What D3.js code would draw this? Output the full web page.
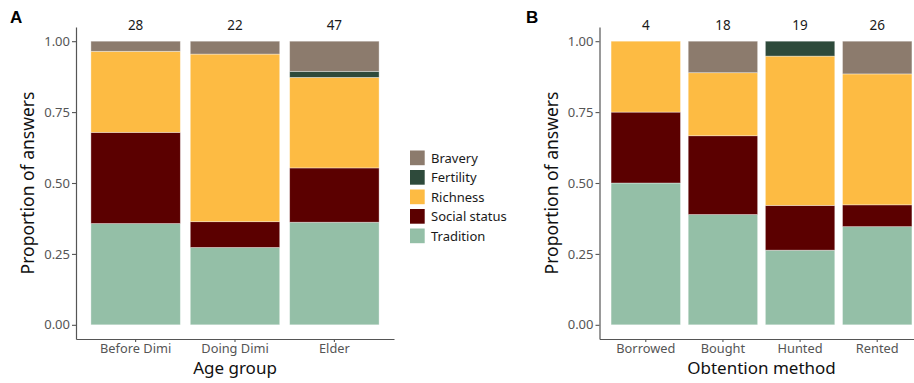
<!DOCTYPE html>
<html>
<head>
<meta charset="utf-8">
<script src="https://cdn.jsdelivr.net/npm/d3@7"></script>
<style>
  html, body { margin: 0; padding: 0; background: #fff; }
  svg { display: block; font-family: "Noto Sans", "Open Sans", sans-serif; }
</style>
</head>
<body>
<svg id="chart" width="914" height="383"></svg>
<script>
// Reasons, stacked from the bottom up
const reasons = ["Tradition", "Social status", "Richness", "Fertility", "Bravery"];
const legendOrder = ["Bravery", "Fertility", "Richness", "Social status", "Tradition"];
const reasonColors = ["#94bfa7", "#5b0000", "#fdbb43", "#2e4a3b", "#8c7b6d"];

// Panel A: answer counts by age group
const ageGroups = ["Before Dimi", "Doing Dimi", "Elder"];
const ageTradition = [10, 6, 17];
const ageSocial = [9, 2, 9];
const ageRichness = [8, 13, 15];
const ageFertility = [0, 0, 1];
const ageBravery = [1, 1, 5];

// Panel B: answer counts by obtention method
const methods = ["Borrowed", "Bought", "Hunted", "Rented"];
const methodTradition = [2, 7, 5, 9];
const methodSocial = [1, 5, 3, 2];
const methodRichness = [1, 4, 10, 12];
const methodFertility = [0, 0, 1, 0];
const methodBravery = [0, 2, 0, 3];

const yTicks = [0, 0.25, 0.5, 0.75, 1];

const svg = d3.select("#chart");
const color = d3.scaleOrdinal().domain(reasons).range(reasonColors);

function buildRows(cats, series) {
  return cats.map((c, i) => {
    const row = { cat: c };
    reasons.forEach((r, k) => { row[r] = series[k][i]; });
    row.total = d3.sum(series, s => s[i]);
    return row;
  });
}

function drawPanel(opts) {
  const { cats, series, x0, x1, letter, letterX, xTitle } = opts;
  const rows = buildRows(cats, series);
  const props = rows.map(r => {
    const p = { cat: r.cat };
    reasons.forEach(k => { p[k] = r[k] / r.total; });
    return p;
  });

  const y = d3.scaleLinear().domain([-0.05, 1.05]).range([339, 27]);
  const x = d3.scaleBand().domain(cats).range([x0, x1])
    .paddingInner(0.1).paddingOuter(0.15);

  const g = svg.append("g");
  const stack = d3.stack().keys(reasons)(props);

  g.selectAll("g.layer").data(stack).join("g")
    .attr("class", "layer")
    .attr("fill", d => color(d.key))
    .selectAll("rect").data(d => d.filter(s => s[1] - s[0] > 0)).join("rect")
    .attr("x", d => x(d.data.cat))
    .attr("width", x.bandwidth())
    .attr("y", d => y(d[1]))
    .attr("height", d => y(d[0]) - y(d[1]))
    .attr("stroke", "rgba(255,255,255,0.45)")
    .attr("stroke-width", 0.8);

  // sample sizes above bars
  g.selectAll("text.n").data(rows).join("text")
    .attr("class", "n")
    .attr("x", d => x(d.cat) + x.bandwidth() / 2)
    .attr("y", 30)
    .attr("text-anchor", "middle")
    .attr("font-size", 13.5)
    .attr("fill", "#1a1a1a")
    .text(d => d.total);

  // y axis
  const yAxis = g.append("g")
    .attr("transform", `translate(${x0},0)`)
    .call(d3.axisLeft(y).tickValues(yTicks).tickFormat(d3.format(".2f")).tickSize(4).tickSizeOuter(0).tickPadding(2));
  yAxis.select(".domain").attr("stroke", "#555").attr("stroke-width", 1.2);
  yAxis.selectAll(".tick line").attr("stroke", "#555").attr("stroke-width", 1.1);
  yAxis.selectAll(".tick text").attr("font-size", 13).attr("fill", "#555")
    .attr("font-family", "\"Noto Sans\", sans-serif");

  // x axis
  const xAxis = g.append("g")
    .attr("transform", "translate(0,339)")
    .call(d3.axisBottom(x).tickSize(3).tickSizeOuter(0).tickPadding(1.5));
  xAxis.select(".domain").attr("stroke", "#555").attr("stroke-width", 1.2);
  xAxis.selectAll(".tick line").attr("stroke", "#555").attr("stroke-width", 1.1);
  xAxis.selectAll(".tick text").attr("font-size", 12.8).attr("fill", "#555")
    .attr("font-family", "\"Noto Sans\", sans-serif");

  // axis titles
  g.append("text")
    .attr("x", (x0 + x1) / 2).attr("y", 374)
    .attr("text-anchor", "middle").attr("font-size", 17).attr("fill", "#111")
    .text(xTitle);
  g.append("text")
    .attr("transform", `translate(${x0 - 42},${y(0.5)}) rotate(-90)`)
    .attr("text-anchor", "middle").attr("font-size", 17.5).attr("fill", "#111")
    .text("Proportion of answers");

  // panel letter
  g.append("text")
    .attr("x", letterX).attr("y", 23)
    .attr("font-size", 17).attr("font-weight", "bold").attr("fill", "#000")
    .attr("font-family", "\"Liberation Sans\", Arial, sans-serif")
    .text(letter);
}

drawPanel({
  cats: ageGroups,
  series: [ageTradition, ageSocial, ageRichness, ageFertility, ageBravery],
  x0: 76, x1: 394, letter: "A", letterX: 10, xTitle: "Age group"
});

drawPanel({
  cats: methods,
  series: [methodTradition, methodSocial, methodRichness, methodFertility, methodBravery],
  x0: 599.5, x1: 923.5, letter: "B", letterX: 526, xTitle: "Obtention method"
});

// legend
const legend = svg.append("g").attr("transform", "translate(410,150.5)");
const items = legend.selectAll("g").data(legendOrder).join("g")
  .attr("transform", (d, i) => `translate(0,${i * 19.5})`);
items.append("rect")
  .attr("width", 14.7).attr("height", 14.7)
  .attr("fill", d => color(d));
items.append("text")
  .attr("x", 21).attr("y", 12)
  .attr("font-size", 13).attr("fill", "#1a1a1a")
  .text(d => d);
</script>
</body>
</html>
